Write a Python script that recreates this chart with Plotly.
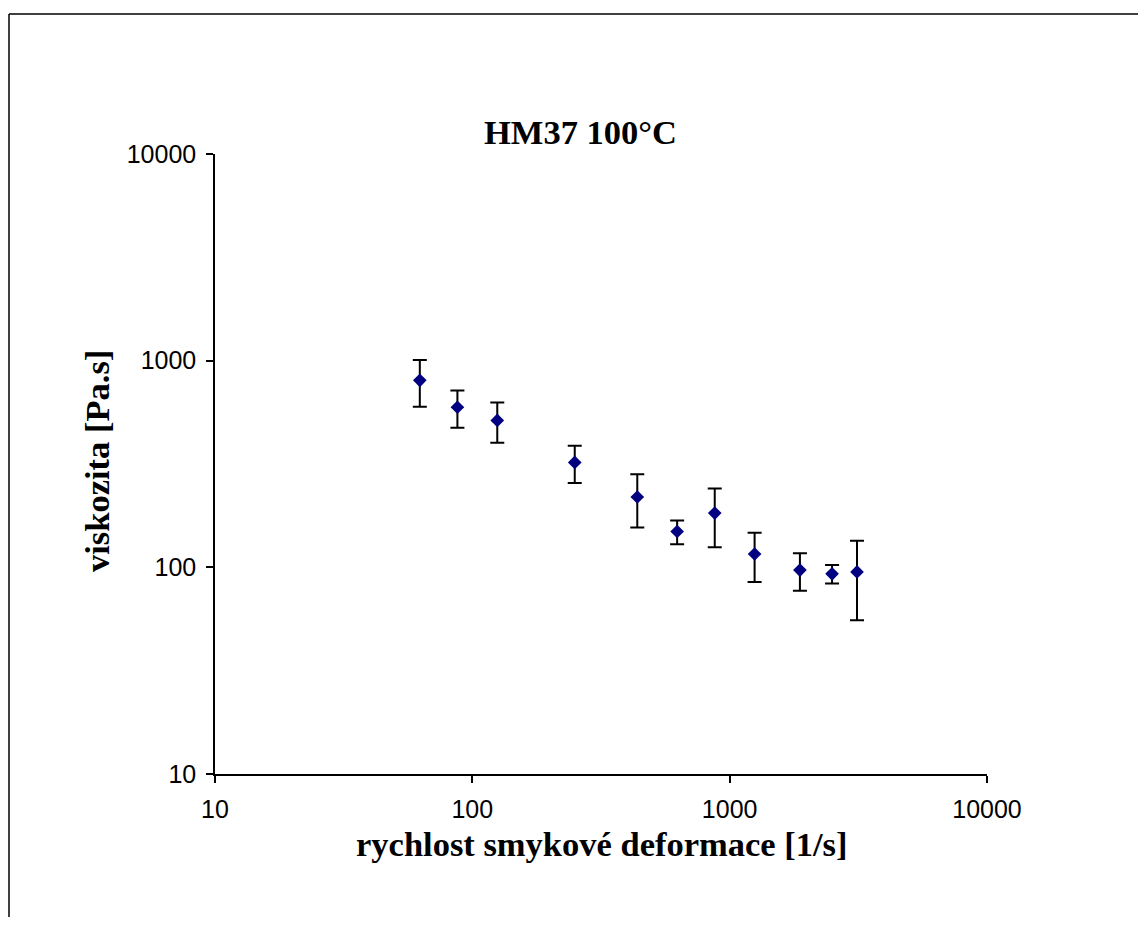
import plotly.graph_objects as go

shear_rate = [62.5, 87.5, 125, 250, 437.5, 625, 875, 1250, 1875, 2500, 3125]
viscosity = [803, 595, 514, 322, 219, 149, 183, 116, 97, 93, 95]
viscosity_err = [205, 122, 113, 66, 63, 19.5, 58, 31, 20, 9.5, 39.5]
tick_vals = [10, 100, 1000, 10000]
tick_text = ["10", "100", "1000", "10000"]

OFF = 8  # page body margin
W, H = 1146 - 2 * OFF, 925 - 2 * OFF
L, T = 215 - OFF, 154 - OFF
R, B = W - (987 - OFF), H - (774 - OFF)
PW, PH = W - L - R, H - T - B

def px(xp):
    return (xp - OFF - L) / PW

def py(yp):
    return (H - B - (yp - OFF)) / PH

fig = go.Figure()
fig.add_trace(go.Scatter(
    x=shear_rate, y=viscosity, mode="markers",
    marker=dict(symbol="diamond", size=10.5, color="#000080"),
    error_y=dict(type="data", array=viscosity_err, visible=True,
                 color="black", thickness=2, width=7),
    showlegend=False,
))

serif = "Liberation Serif, Times New Roman, serif"
sans = "Liberation Sans, Arial, sans-serif"

axis_common = dict(
    type="log", showgrid=False, zeroline=False, showline=True,
    linecolor="black", linewidth=1.5, ticks="outside", ticklen=7,
    tickwidth=1.5, tickcolor="black", tickvals=tick_vals, ticktext=tick_text,
    tickfont=dict(family=sans, size=25, color="black"), ticklabelstandoff=5,
)
fig.update_xaxes(range=[1, 4], **axis_common)
fig.update_yaxes(range=[1, 4], **axis_common)

fig.update_layout(
    width=W, height=H,
    margin=dict(l=L, r=R, t=T, b=B, autoexpand=False),
    paper_bgcolor="white", plot_bgcolor="white",
    annotations=[
        dict(text="<b>HM37 100°C</b>", xref="paper", yref="paper",
             x=px(580.5), y=py(132), xanchor="center", yanchor="middle",
             showarrow=False, font=dict(family=serif, size=34.5, color="black")),
        dict(text="<b>rychlost smykové deformace [1/s]</b>", xref="paper", yref="paper",
             x=px(602), y=py(844), xanchor="center", yanchor="middle",
             showarrow=False, font=dict(family=serif, size=34.5, color="black")),
        dict(text="<b>viskozita [Pa.s]</b>", xref="paper", yref="paper",
             x=px(97), y=py(461), xanchor="center", yanchor="middle", textangle=-90,
             showarrow=False, font=dict(family=serif, size=34.5, color="black")),
    ],
    shapes=[
        dict(type="line", xref="paper", yref="paper", x0=px(9), x1=px(9),
             y0=py(14), y1=py(960), line=dict(color="black", width=1.5)),
        dict(type="line", xref="paper", yref="paper", x0=px(9), x1=px(1180),
             y0=py(14), y1=py(14), line=dict(color="black", width=1.5)),
    ],
)

fig.write_html("out.html")
